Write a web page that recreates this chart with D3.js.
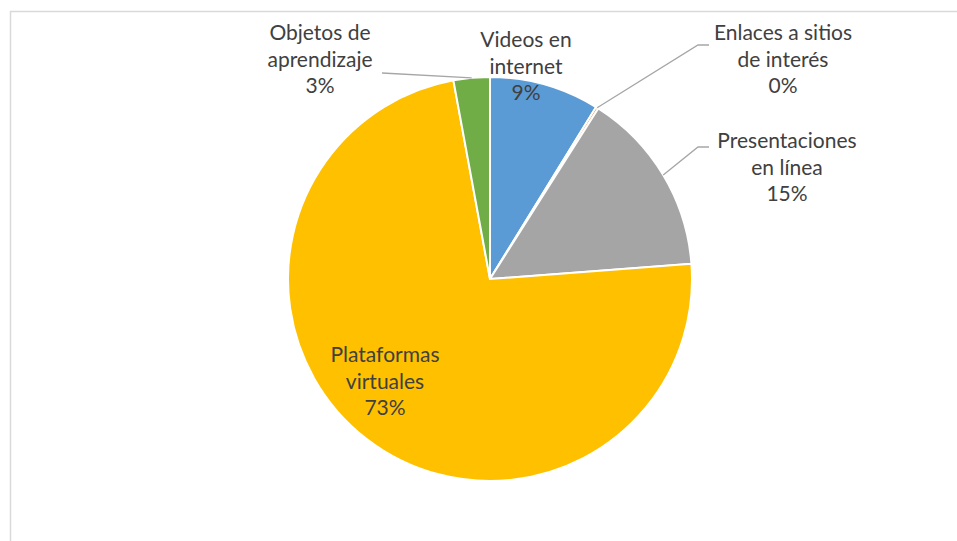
<!DOCTYPE html>
<html>
<head>
<meta charset="utf-8">
<script src="https://cdn.jsdelivr.net/npm/d3@7"></script>
<style>
  body { margin: 0; background: #fff; }
  svg text { font-family: Lato, "Open Sans", sans-serif; fill: #404040; }
</style>
</head>
<body>
<div id="chart"></div>
<script>
// data
var categories = ["Videos en internet", "Enlaces a sitios de interés", "Presentaciones en línea", "Plataformas virtuales", "Objetos de aprendizaje"];
var values = [8.8, 0.2, 14.8, 73.3, 2.9];
var labelLines = [["Videos en", "internet"], ["Enlaces a sitios", "de interés"], ["Presentaciones", "en línea"], ["Plataformas", "virtuales"], ["Objetos de", "aprendizaje"]];
var colors = ["#5B9BD5", "#ED7D31", "#A5A5A5", "#FFC000", "#70AD47"];

var width = 957, height = 541;
var cx = 490, cy = 279, radius = 202;

// where each label block sits (center x, first baseline) and the leader elbow, if any
var labelPos = [
    { x: 526, y: 47, elbow: null },
    { x: 783, y: 40, elbow: [698, 45], end: 709 },
    { x: 787, y: 148, elbow: [698, 147], end: 709 },
    { x: 385, y: 362, elbow: null },
    { x: 320, y: 40, elbow: [382, 73], end: 382 }
];

var data = categories.map(function (c, i) {
    return { name: c, value: values[i], lines: labelLines[i], color: colors[i], pos: labelPos[i] };
});
var total = d3.sum(values);
var pct = d3.format(".0%");

var svg = d3.select("#chart")
    .append("svg")
        .attr("width", width)
        .attr("height", height);

// chart area border
svg.append("rect")
    .attr("x", 10.5)
    .attr("y", 11.5)
    .attr("width", width)
    .attr("height", height)
    .attr("fill", "none")
    .attr("stroke", "#d9d9d9")
    .attr("stroke-width", 1.5);

var pie = d3.pie()
    .sort(null)
    .value(function (d) { return d.value; });

var arc = d3.arc()
    .innerRadius(0)
    .outerRadius(radius);

var g = svg.append("g")
    .attr("transform", "translate(" + cx + "," + cy + ")");

var arcs = pie(data);

g.selectAll("path.slice")
    .data(arcs)
    .enter()
    .append("path")
        .attr("class", "slice")
        .attr("d", arc)
        .attr("fill", function (d) { return d.data.color; })
        .attr("stroke", "#fff")
        .attr("stroke-width", 2);

// leader lines
arcs.forEach(function (d) {
    var p = d.data.pos;
    if (!p.elbow) return;
    var mid = (d.startAngle + d.endAngle) / 2;
    var sx = cx + radius * Math.sin(mid);
    var sy = cy - radius * Math.cos(mid);
    var pts = [[sx, sy], p.elbow, [p.end, p.elbow[1]]];
    svg.append("path")
        .attr("d", d3.line()(pts))
        .attr("fill", "none")
        .attr("stroke", "#a6a6a6")
        .attr("stroke-width", 1.3);
});

// labels
arcs.forEach(function (d) {
    var p = d.data.pos;
    var t = svg.append("text")
        .attr("text-anchor", "middle")
        .style("font-size", "21px");
    var rows = d.data.lines.concat([pct(d.data.value / total)]);
    rows.forEach(function (r, i) {
        t.append("tspan")
            .attr("x", p.x)
            .attr("y", p.y + i * 26.7)
            .text(r);
    });
});
</script>
</body>
</html>
